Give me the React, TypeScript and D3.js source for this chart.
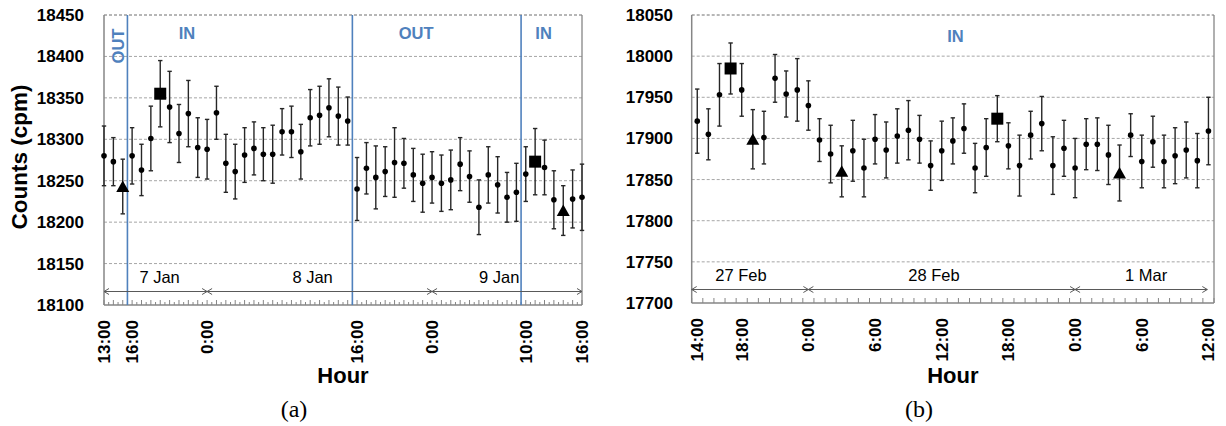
import React from 'react';
import * as d3 from 'd3';

// panel (a): hourly means and errors, 7 Jan 13:00 .. 9 Jan 16:00
const meanA = [18280, 18273, 18243, 18280, 18263, 18301, 18355, 18339, 18307, 18331, 18290, 18288, 18332, 18271, 18261, 18281, 18289, 18282, 18282, 18309, 18309, 18285, 18326, 18329, 18338, 18328, 18322, 18240, 18265, 18254, 18261, 18272, 18271, 18257, 18247, 18254, 18247, 18251, 18270, 18255, 18218, 18257, 18245, 18230, 18236, 18258, 18273, 18266, 18227, 18214, 18228, 18230];
const errA = [36, 29, 33, 34, 31, 39, 40, 43, 35, 40, 36, 36, 32, 35, 33, 33, 32, 32, 35, 28, 31, 33, 34, 35, 35, 35, 29, 38, 31, 38, 30, 42, 30, 32, 35, 31, 34, 36, 32, 31, 33, 34, 34, 30, 35, 33, 40, 33, 35, 30, 35, 40];
const squaresA = [6, 46];
const trianglesA = [2, 49];
const tickLabelsA: [number, string][] = [[0, '13:00'], [3, '16:00'], [11, '0:00'], [27, '16:00'], [35, '0:00'], [45, '10:00'], [51, '16:00']];
const daySpansA = [0, 11, 35, 51];
const dayLabelsA: [number, string][] = [[5.93, '7 Jan'], [22.26, '8 Jan'], [42.17, '9 Jan']];
const switchesA = [2.5, 26.5, 44.5];
const zonesA: [number, string, boolean][] = [[1.39, 'OUT', true], [8.86, 'IN', false], [33.3, 'OUT', false], [46.9, 'IN', false]];

// panel (b): 27 Feb 14:00 .. 1 Mar 12:00
const meanB = [17921, 17905, 17953, 17985, 17959, 17899, 17901, 17973, 17954, 17959, 17940, 17898, 17881, 17860, 17885, 17864, 17899, 17886, 17903, 17910, 17899, 17867, 17885, 17897, 17912, 17864, 17889, 17924, 17891, 17867, 17904, 17918, 17867, 17888, 17864, 17893, 17893, 17880, 17858, 17904, 17872, 17896, 17872, 17879, 17886, 17873, 17909];
const errB = [39, 31, 38, 31, 32, 36, 32, 29, 28, 38, 30, 26, 35, 31, 37, 35, 30, 34, 33, 36, 29, 30, 36, 28, 30, 30, 35, 28, 28, 37, 29, 33, 35, 34, 36, 31, 32, 36, 34, 26, 32, 31, 32, 34, 34, 33, 41];
const squaresB = [3, 27];
const trianglesB = [5, 13, 38];
const tickLabelsB: [number, string][] = [[0, '14:00'], [4, '18:00'], [10, '0:00'], [16, '6:00'], [22, '12:00'], [28, '18:00'], [34, '0:00'], [40, '6:00'], [46, '12:00']];
const daySpansB = [-0.5, 10, 34, 45.9];
const dayLabelsB: [number, string][] = [[3.93, '27 Feb'], [21.3, '28 Feb'], [40.4, '1 Mar']];
const zonesB: [number, string, boolean][] = [[23.24, 'IN', false]];

const SANS = '"Liberation Sans", Arial, sans-serif';
const BLUE = '#4f81bd';
const AXIS = '#868686';

function Panel({ cfg }: { cfg: any }) {
  const n = cfg.mean.length;
  const x = d3.scalePoint<number>().domain(d3.range(n)).range(cfg.xRange).padding(cfg.pad);
  const step = x.step();
  const xf = (i: number) => (x(0) as number) + i * step;
  const y = d3.scaleLinear().domain(cfg.yDomain).range([cfg.bottom, cfg.top]);
  const [left, right] = cfg.xRange;
  const yTicks = d3.range(cfg.yDomain[0], cfg.yDomain[1] + 1, 50);
  const midX = (left + right) / 2;

  // small ticks along the x axis
  const ticks = cfg.pad === 0
    ? d3.range(0, n - 0.99, 0.5).map((i) => ({ x: xf(i), h: Number.isInteger(i) ? 5 : 3 }))
    : d3.range(0, n + 1).map((k) => ({ x: left + k * step, h: 5 }));

  const arrowY = cfg.bottom - 13.5;
  const spans = cfg.days.slice(1).map((d: number, k: number) => [Math.max(left, xf(cfg.days[k])), xf(d)]);

  return (
    <g>
      {yTicks.slice(1).map((v: number) => (
        <line key={v} x1={left} x2={right} y1={y(v)} y2={y(v)}
          stroke={v === cfg.yDomain[1] ? '#6e6e6e' : '#a6a6a6'} strokeDasharray="3,2" strokeWidth={1} />
      ))}
      <line x1={left} x2={left} y1={cfg.top} y2={cfg.bottom} stroke={AXIS} strokeWidth={1.5} />
      <line x1={right} x2={right} y1={cfg.top} y2={cfg.bottom} stroke={AXIS} strokeWidth={1.3} />
      <line x1={left} x2={right} y1={cfg.bottom} y2={cfg.bottom} stroke={AXIS} strokeWidth={1.5} />
      {ticks.map((t: any, k: number) => (
        <line key={k} x1={t.x} x2={t.x} y1={cfg.bottom} y2={cfg.bottom - t.h} stroke={AXIS} strokeWidth={1} />
      ))}

      {yTicks.map((v: number) => (
        <text key={v} x={cfg.yLabelX} y={y(v) + 6} textAnchor="end" fontFamily={SANS}
          fontWeight="bold" fontSize={17} fill="#000">{v}</text>
      ))}
      {cfg.tickLabels.map(([i, s]: [number, string]) => (
        <text key={i} transform={`translate(${xf(i) + 6},${cfg.bottom + 15}) rotate(-90)`}
          textAnchor="end" fontFamily={SANS} fontWeight="bold" fontSize={17} fill="#000">{s}</text>
      ))}

      {(cfg.switches || []).map((i: number) => (
        <line key={i} x1={xf(i)} x2={xf(i)} y1={cfg.top} y2={cfg.bottom} stroke={BLUE} strokeWidth={1.6} />
      ))}
      {cfg.zones.map(([i, s, rot]: [number, string, boolean], k: number) => (
        rot
          ? <text key={k} transform={`translate(${xf(i) + 6.5},${cfg.top + 31}) rotate(-90)`} textAnchor="middle"
              fontFamily={SANS} fontWeight="bold" fontSize={16.5} fill={BLUE}>{s}</text>
          : <text key={k} x={xf(i)} y={cfg.zoneY} textAnchor="middle"
              fontFamily={SANS} fontWeight="bold" fontSize={16.5} fill={BLUE}>{s}</text>
      ))}

      {spans.map(([a, b]: number[], k: number) => (
        <g key={k} stroke="#595959" strokeWidth={1} fill="none">
          <line x1={a} x2={b} y1={arrowY} y2={arrowY} />
          <path d={`M${a + 5},${arrowY - 3}L${a},${arrowY}L${a + 5},${arrowY + 3}`} />
          <path d={`M${b - 5},${arrowY - 3}L${b},${arrowY}L${b - 5},${arrowY + 3}`} />
        </g>
      ))}
      {cfg.dayLabels.map(([i, s]: [number, string]) => (
        <text key={s} x={xf(i)} y={cfg.bottom - 22} textAnchor="middle" fontFamily={SANS}
          fontSize={16.5} fill="#000">{s}</text>
      ))}

      {cfg.mean.map((m: number, i: number) => {
        const cx = x(i) as number;
        const e = cfg.err[i];
        return (
          <g key={i} stroke="#262626" strokeWidth={1.4}>
            <line x1={cx} x2={cx} y1={y(m + e)} y2={y(m - e)} />
            <line x1={cx - 2.2} x2={cx + 2.2} y1={y(m + e)} y2={y(m + e)} />
            <line x1={cx - 2.2} x2={cx + 2.2} y1={y(m - e)} y2={y(m - e)} />
          </g>
        );
      })}
      {cfg.mean.map((m: number, i: number) => {
        const cx = x(i) as number;
        const cy = y(m);
        if (cfg.squares.includes(i)) return <rect key={i} x={cx - 6} y={cy - 6} width={12} height={12} fill="#000" />;
        if (cfg.triangles.includes(i)) return <path key={i} d={`M${cx},${cy - 6}L${cx + 6.5},${cy + 5.5}L${cx - 6.5},${cy + 5.5}Z`} fill="#000" />;
        return <circle key={i} cx={cx} cy={cy} r={2.8} fill="#000" />;
      })}

      <text x={midX} y={383} textAnchor="middle" fontFamily={SANS} fontWeight="bold" fontSize={22} fill="#000">Hour</text>
      <text x={cfg.captionX} y={416.5} textAnchor="middle" fontFamily='"Liberation Serif", "Times New Roman", serif'
        fontSize={24} fill="#000">{cfg.caption}</text>
    </g>
  );
}

export default function App() {
  const panelA = {
    mean: meanA, err: errA, squares: squaresA, triangles: trianglesA,
    xRange: [104, 582], pad: 0, yDomain: [18100, 18450], top: 15, bottom: 305, yLabelX: 84,
    tickLabels: tickLabelsA, days: daySpansA, dayLabels: dayLabelsA, switches: switchesA,
    zones: zonesA, zoneY: 38.5, caption: '(a)', captionX: 294,
  };
  const panelB = {
    mean: meanB, err: errB, squares: squaresB, triangles: trianglesB,
    xRange: [691.7, 1214], pad: 0.5, yDomain: [17700, 18050], top: 15, bottom: 303, yLabelX: 673,
    tickLabels: tickLabelsB, days: daySpansB, dayLabels: dayLabelsB, switches: [],
    zones: zonesB, zoneY: 41.5, caption: '(b)', captionX: 919,
  };
  return (
    <svg width={1226} height={426} style={{ position: 'absolute', left: 0, top: 0, background: '#fff' }}>
      <Panel cfg={panelA} />
      <Panel cfg={panelB} />
      <text transform="translate(27,157) rotate(-90)" textAnchor="middle" fontFamily={SANS}
        fontWeight="bold" fontSize={22.5} fill="#000">Counts (cpm)</text>
    </svg>
  );
}
